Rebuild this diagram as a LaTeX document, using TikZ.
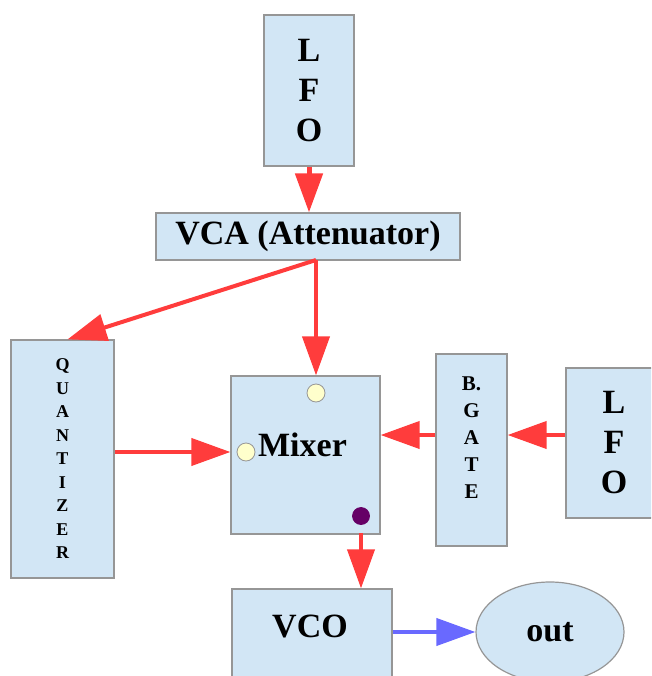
\documentclass[tikz,border=0pt]{standalone}
\usepackage{fontspec}
\setmainfont{Liberation Serif}
\usetikzlibrary{positioning,calc,arrows.meta,shapes.geometric}
\definecolor{boxfill}{RGB}{210,230,245}
\definecolor{boxline}{RGB}{150,150,150}
\definecolor{wirered}{RGB}{255,60,60}
\definecolor{wireblue}{RGB}{105,105,255}
\definecolor{portyel}{RGB}{255,255,204}
\definecolor{portpur}{RGB}{102,0,102}
\tikzset{
  box/.style={draw=boxline,fill=boxfill,line width=1.2pt,inner sep=0pt,align=center,
    font=\bfseries\fontsize{34}{40}\selectfont},
  port/.style={circle,draw=boxline,line width=0.8pt,minimum size=18pt,inner sep=0pt},
  link/.style={draw=wirered,line width=4pt,-{Triangle[length=39pt,width=27pt]}},
}
\begin{document}
\begin{tikzpicture}[x=1pt,y=-1pt]
\useasboundingbox (0,0) rectangle (651,676);
\clip (0,0) rectangle (651,676);
% blocks (pixel grid of the sketch, y downwards)
\node[box,minimum width=90pt,minimum height=151pt] (lfoA) at (309,90.5) {L\\F\\O};
\node[box,minimum width=304pt,minimum height=47pt] (vca) at (308,236.5) {VCA (Attenuator)};
\node[box,minimum width=103pt,minimum height=238pt,font=\bfseries\fontsize{18}{23.5}\selectfont] (quant) at (62.5,459) {Q\\U\\A\\N\\T\\I\\Z\\E\\R};
\node[box,minimum width=149pt,minimum height=158pt] (mixer) at (305.5,455) {};
\node[font=\bfseries\fontsize{34}{40}\selectfont] (mixlbl) at ($(mixer)+(-3,-10)$) {Mixer};
\node[box,minimum width=71pt,minimum height=192pt] (bgate) at (471.5,450) {};
\node[font=\bfseries\fontsize{21}{27}\selectfont,align=center] (bglbl) at ($(bgate)+(0,-12)$) {B.\\G\\A\\T\\E};
\node[box,minimum width=96pt,minimum height=150pt] (lfoB) at (614,443) {L\\F\\O};
\node[box,minimum width=160pt,minimum height=96pt] (vco) at (312,637) {};
\node[font=\bfseries\fontsize{34}{40}\selectfont] (vcolbl) at (310,626) {VCO};
\node[box,ellipse,minimum width=148pt,minimum height=100pt] (out) at (550,632) {out};
% ports on the mixer
\node[port,fill=portyel] (inT) at (316,393) {};
\node[port,fill=portyel] (inL) at (246,452) {};
\node[port,fill=portpur,draw=portpur,minimum size=17pt] (mo) at (361,516) {};
% wires
\coordinate (vs) at (316,260);
\coordinate (row) at (0,435);
\draw[link,line width=5pt] (lfoA.south) -- (lfoA.south |- vca.north);
\draw[link] (vs) -- ($(quant.north)+(5,0)$);
\draw[link] (vs) -- (vs |- mixer.north);
\draw[link] (quant.east |- inL) -- (mixer.west |- inL);
\draw[link] (bgate.west |- row) -- (mixer.east |- row);
\draw[link] (lfoB.west |- row) -- (bgate.east |- row);
\draw[link,shorten <=8pt] (mo) -- (mo |- vco.north);
\draw[link,draw=wireblue] (out.west -| vco.east) -- (out.west);
\end{tikzpicture}
\end{document}
